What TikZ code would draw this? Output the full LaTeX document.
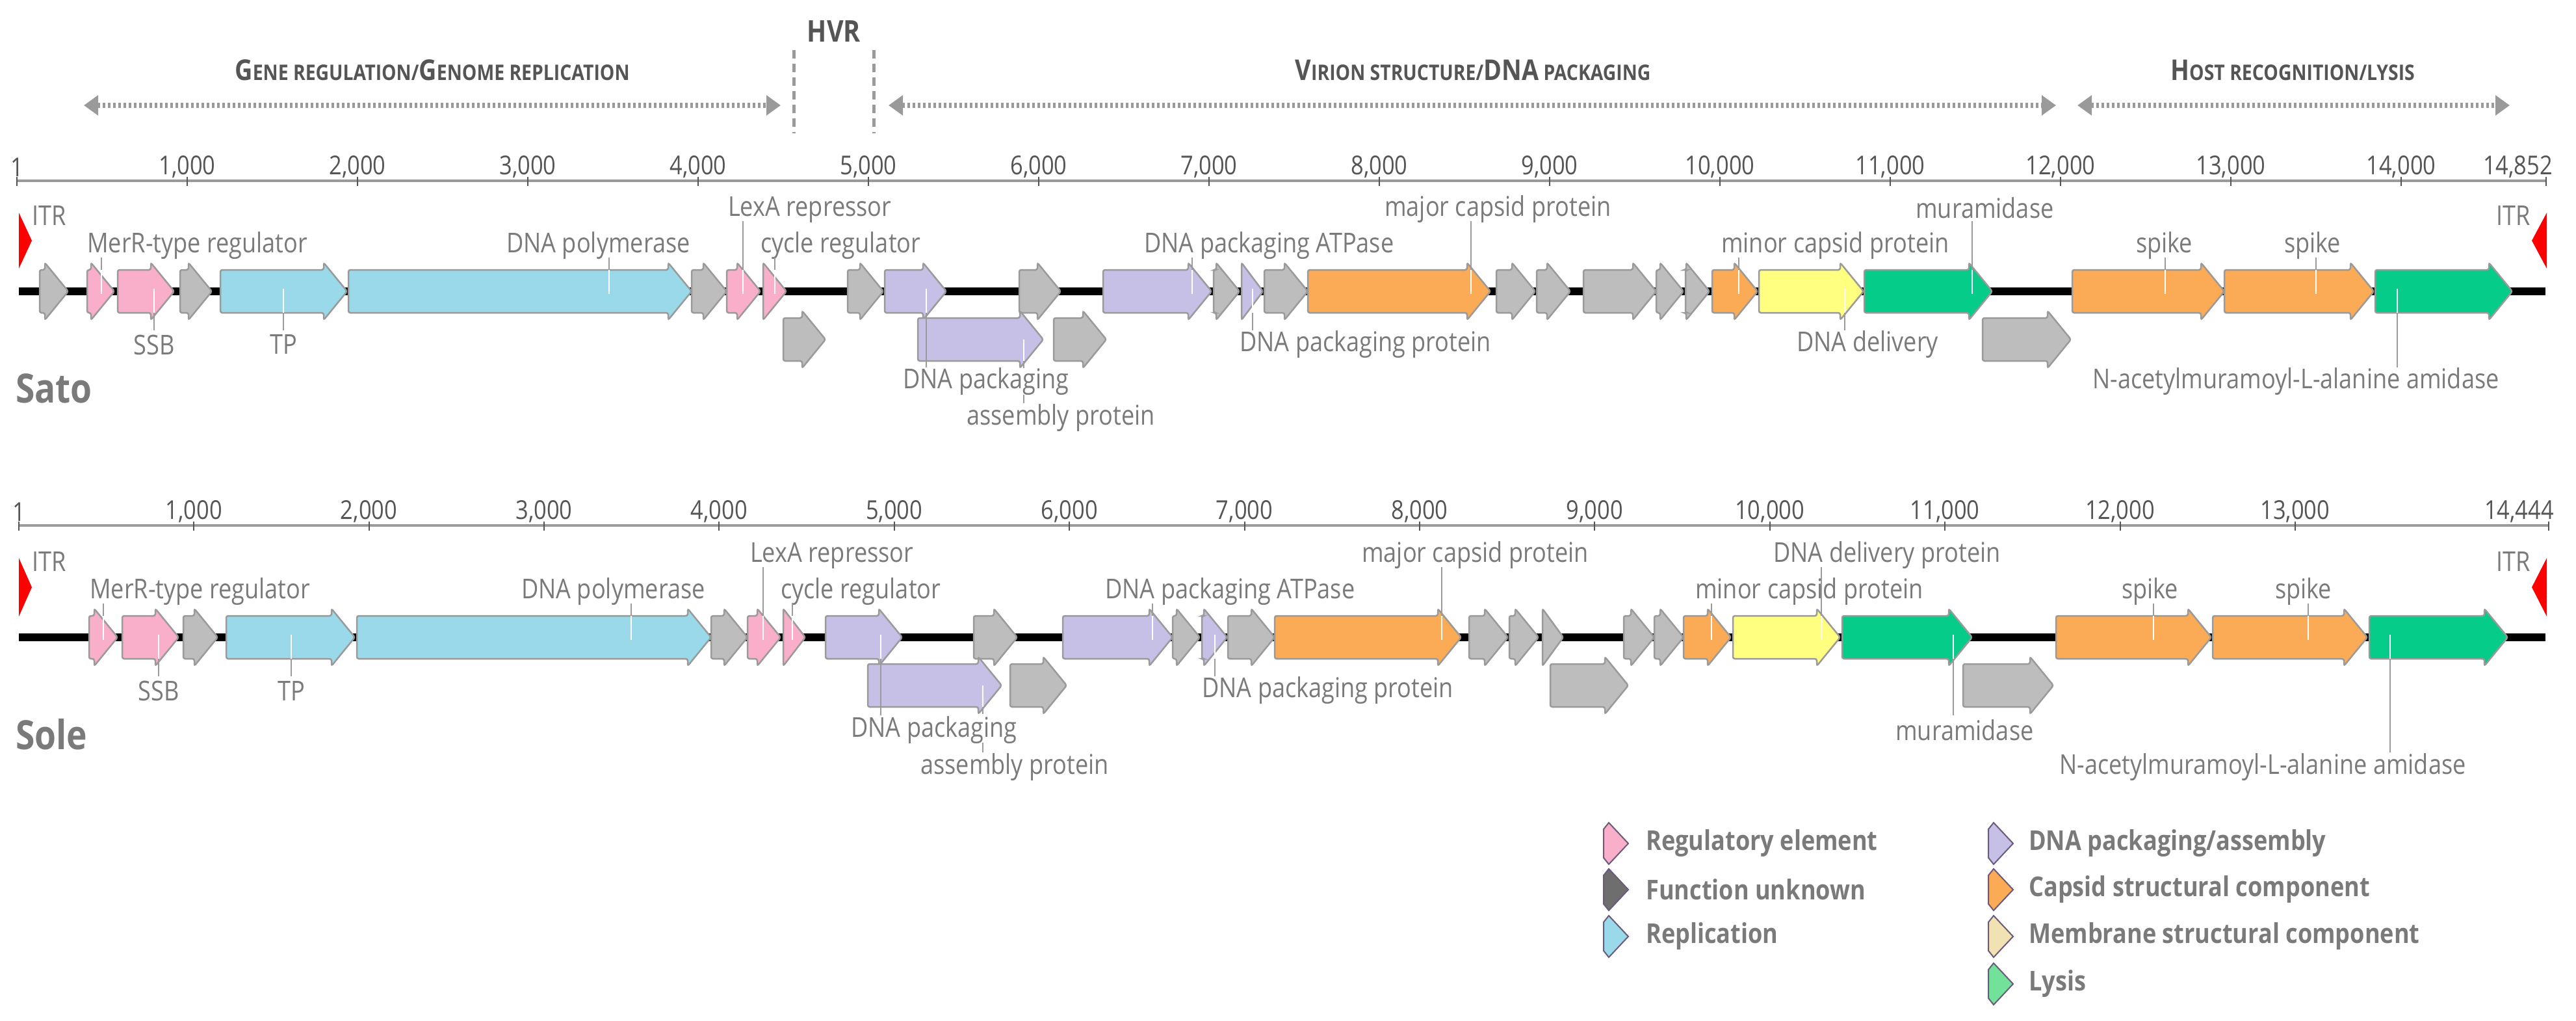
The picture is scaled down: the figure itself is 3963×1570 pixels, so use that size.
\documentclass[tikz,border=0pt]{standalone}
\usepackage{fontspec}
\setmainfont{Open Sans}[FakeStretch=0.86]
\usetikzlibrary{arrows.meta}
\definecolor{cP}{HTML}{F9AFC9}
\definecolor{cG}{HTML}{BDBDBD}
\definecolor{cB}{HTML}{99D9EA}
\definecolor{cV}{HTML}{C6BFE6}
\definecolor{cO}{HTML}{FBAA56}
\definecolor{cY}{HTML}{FFFF80}
\definecolor{cN}{HTML}{05CC88}
\definecolor{cD}{HTML}{6E6E6E}
\definecolor{cM}{HTML}{F0E2B2}
\definecolor{cL}{HTML}{72E29A}
\definecolor{txt}{HTML}{7A7A7A}
\definecolor{dk}{HTML}{555555}
\definecolor{edge}{HTML}{9A9A9A}
\definecolor{legedge}{HTML}{6B5B7B}
\newcommand\gene[4]{%
  \pgfmathsetmacro\hl{min(36,#2-#1)}%
  \filldraw[fill=#4,draw=edge,line width=2.5,rounded corners=3]
   (#1,#3-33) -- (#2-\hl,#3-33) -- (#2-\hl,#3-44) -- (#2,#3) -- (#2-\hl,#3+44) -- (#2-\hl,#3+33) -- (#1,#3+33) -- cycle;}
\newcommand\lup[3]{\draw[ldr] (#1,#2) -- (#1,#3-33); \draw[white,line width=2] (#1,#3-33) -- (#1,#3+4);}
\newcommand\ldn[3]{\draw[ldr] (#1,#3+33) -- (#1,#2); \draw[white,line width=2] (#1,#3+33) -- (#1,#3-4);}
\newcommand\lic[3]{\filldraw[fill=#3,draw=legedge,line width=2] (#1,#2-22) -- (#1+8,#2-32) -- (#1+38,#2) -- (#1+8,#2+32) -- (#1,#2+22) -- cycle;}
\newcommand\fsc[2]{{\fontsize{44}{44}\selectfont #1}{\fontsize{33}{33}\selectfont #2}}
\begin{document}
\begin{tikzpicture}[x=1pt,y=-1pt,
  lbl/.style={text=txt,font=\fontsize{42}{42}\selectfont,inner sep=0pt},
  tck/.style={text=dk,font=\fontsize{40}{40}\selectfont,inner sep=0pt},
  ttl/.style={text=dk,font=\bfseries,inner sep=0pt},
  ldr/.style={draw=edge,line width=2},
  sec/.style={draw=edge,line width=8,dash pattern=on 4pt off 4pt,{Triangle[length=22,width=30]}-{Triangle[length=22,width=30]}},
  hvr/.style={draw=edge,line width=5,dash pattern=on 13pt off 8pt},
  itr/.style={fill=red,draw=none},
  leg/.style={text=txt,font=\bfseries\fontsize{42}{42}\selectfont,inner sep=0pt,anchor=west}]
\useasboundingbox (0,0) rectangle (3963,1570);
% ---------- top section headers
\node[ttl,font=\bfseries\fontsize{46}{46}\selectfont] (hvr) at (1283,48) {HVR};
\draw[hvr] (1221,77) -- (1221,205);
\draw[hvr] (1344,77) -- (1344,205);
\node[ttl] (t1) at (665,108) {\fsc{G}{ENE REGULATION/}\fsc{G}{ENOME REPLICATION}};
\node[ttl] (t2) at (2266,108) {\fsc{V}{IRION STRUCTURE/}{\fontsize{44}{44}\selectfont DNA}\fsc{}{ PACKAGING}};
\node[ttl] (t3) at (3527,108) {\fsc{H}{OST RECOGNITION/LYSIS}};
\coordinate (a1) at (129,162); \coordinate (a2) at (1201,162);
\coordinate (a3) at (1367,162); \coordinate (a4) at (3163,162);
\coordinate (a5) at (3196,162); \coordinate (a6) at (3861,162);
\draw[sec] (a1) -- (a2);
\draw[sec] (a3) -- (a4);
\draw[sec] (a5) -- (a6);
% ---------- Sato axis
\draw[edge,line width=4] (26,278) -- (3917,278);
\foreach \p/\t in {1/1,1000/{1,000},2000/{2,000},3000/{3,000},4000/{4,000},5000/{5,000},6000/{6,000},7000/{7,000},8000/{8,000},9000/{9,000},10000/{10,000},11000/{11,000},12000/{12,000},13000/{13,000},14000/{14,000}}{
  \pgfmathsetmacro\xx{26+0.262*\p}
  \draw[dk,line width=2] (\xx,272) -- (\xx,286);
  \node[tck] at (\xx,257) {\t};}
\draw[dk,line width=2] (3917,272) -- (3917,286);
\node[tck,anchor=east] (satoend) at (3927,257) {14,852};
% ---------- Sole axis
\draw[edge,line width=4] (29,808) -- (3921,808);
\foreach \p/\t in {1/1,1000/{1,000},2000/{2,000},3000/{3,000},4000/{4,000},5000/{5,000},6000/{6,000},7000/{7,000},8000/{8,000},9000/{9,000},10000/{10,000},11000/{11,000},12000/{12,000},13000/{13,000}}{
  \pgfmathsetmacro\xx{29+0.2694*(\p-1)}
  \draw[dk,line width=2] (\xx,802) -- (\xx,816);
  \node[tck] at (\xx,787) {\t};}
\draw[dk,line width=2] (3921,802) -- (3921,816);
\node[tck,anchor=east] (soleend) at (3929,787) {14,444};
% ---------- Sato genome
\draw[black,line width=12] (29,448) -- (3916,448);
\fill[itr] (29,327) -- (49,370) -- (29,413) -- cycle;
\fill[itr] (3918,327) -- (3895,370) -- (3918,413) -- cycle;
\foreach \a/\b/\c in {61/105/cG,134/176/cP,181/268/cP,277/326/cG,339/534/cB,536/1064/cB,1064/1118/cG,1118/1170/cP,1174/1210/cP,1304/1359/cG,1361/1456/cV,1568/1632/cG,1697/1864/cV,1867/1907/cG,1910/1943/cV,1945/2012/cG,2012/2293/cO,2302/2362/cG,2364/2416/cG,2436/2548/cG,2548/2590/cG,2593/2630/cG,2634/2704/cO,2706/2867/cY,2868/3065/cN,3188/3422/cO,3422/3652/cO,3654/3865/cN}{\gene{\a}{\b}{448}{\c}}
\foreach \a/\b/\c in {1205/1270/cG,1412/1605/cV,1621/1702/cG,3050/3186/cG}{\gene{\a}{\b}{522}{\c}}
\node[lbl,anchor=west] (s0) at (49,332) {ITR};
\node[lbl,anchor=east] (s0b) at (3893,332) {ITR};
\node[lbl,anchor=west] (s1) at (134,378) {MerR-type regulator}; \lup{156}{396}{448}
\node[lbl] (s2) at (237,530) {SSB}; \ldn{237}{508}{448}
\node[lbl] (s3) at (436,530) {TP}; \ldn{436}{508}{448}
\node[lbl,anchor=west] (s4) at (779,378) {DNA polymerase}; \lup{937}{396}{448}
\node[lbl,anchor=west] (s5) at (1120,322) {LexA repressor}; \lup{1143}{340}{448}
\node[lbl,anchor=west] (s6) at (1170,378) {cycle regulator}; \lup{1192}{396}{448}
\node[lbl,anchor=west] (s7) at (1389,587) {DNA packaging}; \ldn{1425}{565}{448}
\node[lbl,anchor=west] (s8) at (1487,643) {assembly protein};
\draw[white,line width=2] (1575,522) -- (1575,555); \draw[ldr] (1575,555) -- (1575,566); \draw[ldr] (1575,607) -- (1575,620);
\node[lbl,anchor=west] (s9) at (1760,378) {DNA packaging ATPase}; \lup{1834}{396}{448}
\node[lbl,anchor=west] (s10) at (1907,530) {DNA packaging protein}; \ldn{1927}{508}{448}
\node[lbl,anchor=west] (s11) at (2130,322) {major capsid protein}; \lup{2263}{340}{448}
\node[lbl,anchor=west] (s12) at (2648,378) {minor capsid protein}; \lup{2675}{396}{448}
\node[lbl,anchor=west] (s13) at (2947,320) {muramidase}; \lup{3034}{340}{448}
\node[lbl,anchor=west] (s14) at (2764,530) {DNA delivery}; \ldn{2838}{508}{448}
\node[lbl,anchor=west] (s15) at (3286,378) {spike}; \lup{3331}{396}{448}
\node[lbl,anchor=west] (s16) at (3514,378) {spike}; \lup{3563}{396}{448}
\node[lbl,anchor=west] (s17) at (3219,587) {N-acetylmuramoyl-L-alanine amidase}; \ldn{3688}{565}{448}
\node[ttl,text=txt,font=\bfseries\fontsize{62}{62}\selectfont,anchor=west] (sato) at (24,597) {Sato};
% ---------- Sole genome
\draw[black,line width=12] (29,980) -- (3916,980);
\fill[itr] (29,858) -- (49,903) -- (29,948) -- cycle;
\fill[itr] (3918,858) -- (3895,903) -- (3918,948) -- cycle;
\foreach \a/\b/\c in {137/181/cP,188/275/cP,282/335/cG,348/546/cB,549/1094/cB,1094/1150/cG,1150/1201/cP,1205/1239/cP,1270/1388/cV,1498/1565/cG,1635/1804/cV,1804/1846/cG,1849/1888/cV,1889/1961/cG,1961/2248/cO,2260/2320/cG,2322/2367/cG,2373/2405/cG,2498/2545/cG,2545/2590/cG,2590/2663/cO,2666/2831/cY,2834/3034/cN,3163/3402/cO,3404/3642/cO,3645/3858/cN}{\gene{\a}{\b}{980}{\c}}
\foreach \a/\b/\c in {1335/1541/cV,1554/1641/cG,2385/2505/cG,3020/3159/cG}{\gene{\a}{\b}{1054}{\c}}
\node[lbl,anchor=west] (o0) at (49,864) {ITR};
\node[lbl,anchor=east] (o0b) at (3893,864) {ITR};
\node[lbl,anchor=west] (o1) at (138,910) {MerR-type regulator}; \lup{159}{928}{980}
\node[lbl] (o2) at (244,1062) {SSB}; \ldn{244}{1040}{980}
\node[lbl] (o3) at (448,1062) {TP}; \ldn{448}{1040}{980}
\node[lbl,anchor=west] (o4) at (802,910) {DNA polymerase}; \lup{971}{928}{980}
\node[lbl,anchor=west] (o5) at (1154,854) {LexA repressor}; \lup{1174}{872}{980}
\node[lbl,anchor=west] (o6) at (1201,910) {cycle regulator}; \lup{1219}{928}{980}
\node[lbl,anchor=west] (o7) at (1309,1123) {DNA packaging}; \ldn{1355}{1100}{980}
\node[lbl,anchor=west] (o8) at (1416,1180) {assembly protein};
\draw[white,line width=2] (1512,1054) -- (1512,1087); \draw[ldr] (1512,1087) -- (1512,1098); \draw[ldr] (1512,1142) -- (1512,1157);
\node[lbl,anchor=west] (o9) at (1700,910) {DNA packaging ATPase}; \lup{1773}{928}{980}
\node[lbl,anchor=west] (o10) at (1849,1062) {DNA packaging protein}; \ldn{1869}{1040}{980}
\node[lbl,anchor=west] (o11) at (2095,854) {major capsid protein}; \lup{2218}{872}{980}
\node[lbl,anchor=west] (o12) at (2608,910) {minor capsid protein}; \lup{2633}{928}{980}
\node[lbl,anchor=west] (o13) at (2728,854) {DNA delivery protein}; \lup{2802}{872}{980}
\node[lbl,anchor=west] (o14) at (2916,1123) {muramidase}; \ldn{3005}{1100}{980}
\node[lbl,anchor=west] (o15) at (3264,910) {spike}; \lup{3313}{928}{980}
\node[lbl,anchor=west] (o16) at (3500,910) {spike}; \lup{3551}{928}{980}
\node[lbl,anchor=west] (o17) at (3168,1180) {N-acetylmuramoyl-L-alanine amidase}; \ldn{3677}{1157}{980}
\node[ttl,text=txt,font=\bfseries\fontsize{62}{62}\selectfont,anchor=west] (sole) at (24,1129) {Sole};
% ---------- legend
\lic{2467}{1297}{cP}
\lic{2467}{1368}{cD}
\lic{2467}{1440}{cB}
\lic{3059}{1297}{cV}
\lic{3059}{1368}{cO}
\lic{3059}{1440}{cM}
\lic{3059}{1513}{cL}
\node[leg] (l1) at (2532,1297) {Regulatory element};
\node[leg] (l2) at (2532,1368) {Function unknown};
\node[leg] (l3) at (2532,1440) {Replication};
\node[leg] (l4) at (3121,1297) {DNA packaging/assembly};
\node[leg] (l5) at (3121,1368) {Capsid structural component};
\node[leg] (l6) at (3121,1440) {Membrane structural component};
\node[leg] (l7) at (3121,1513) {Lysis};
\end{tikzpicture}
\end{document}
